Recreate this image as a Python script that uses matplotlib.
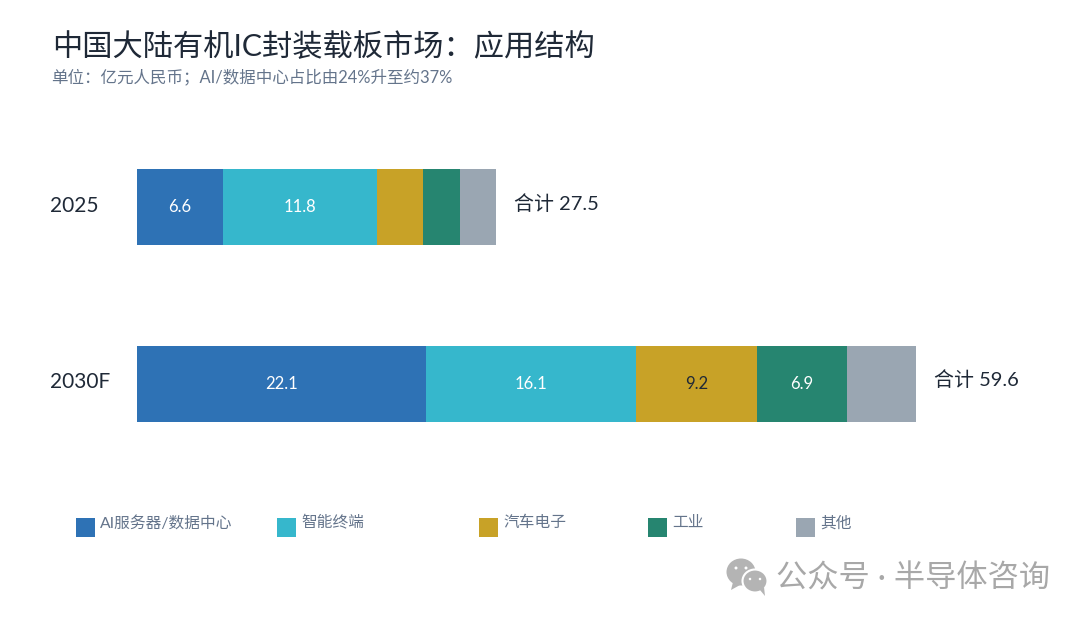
import matplotlib
matplotlib.use("Agg")
import matplotlib.pyplot as plt
from matplotlib.patches import Ellipse, Rectangle, Polygon

plt.rcParams['font.family'] = ['Lato', 'Noto Sans CJK SC', 'DejaVu Sans']

# data
years = ["2025", "2030F"]
categories = ["AI服务器/数据中心", "智能终端", "汽车电子", "工业", "其他"]
ai_server = [6.6, 22.1]
terminal = [11.8, 16.1]
auto = [3.5, 9.2]
industry = [2.8, 6.9]
other = [2.8, 5.3]
totals = [27.5, 59.6]

series = [ai_server, terminal, auto, industry, other]
colors = ["#2E72B5", "#36B7CC", "#C8A227", "#268570", "#9AA6B2"]
# which segments carry a label, and in what colour
label_flags = [[True, True], [True, True], [False, True], [False, True], [False, False]]
label_colors = ["white", "white", "#1F2937", "white", "white"]

title = "中国大陆有机IC封装载板市场：应用结构"
subtitle = "单位：亿元人民币；AI/数据中心占比由24%升至约37%"
watermark = "公众号 · 半导体咨询"

W, H = 1080, 619
fig = plt.figure(figsize=(W / 100, H / 100), dpi=100, facecolor="white")

# overlay in pixel coordinates for text and legend
bg = fig.add_axes([0, 0, 1, 1])
bg.set_xlim(0, W)
bg.set_ylim(H, 0)
bg.axis("off")

# bars
ax = fig.add_axes([137 / W, 1 - 421.5 / H, 779 / W, 252.5 / H])
ax.patch.set_alpha(0)
ypos = [0, 1]
left = [0, 0]
for i, vals in enumerate(series):
    ax.barh(ypos, vals, left=left, height=0.43, color=colors[i], linewidth=0)
    for j in range(2):
        if label_flags[i][j]:
            ax.text(left[j] + vals[j] / 2, ypos[j], f"{vals[j]:.1f}", color=label_colors[i],
                    ha="center", va="center", fontsize=12)
    left = [left[0] + vals[0], left[1] + vals[1]]
ax.set_xlim(0, 59.6)
ax.set_ylim(1.215, -0.215)
ax.axis("off")

for j in range(2):
    ax.text(-87 / 13.07, ypos[j] - 0.006, years[j], ha="left", va="center", fontsize=15, color="#1F2937")
    ax.text(totals[j] + 18 / 13.07, ypos[j] - 0.02, f"合计 {totals[j]}", ha="left", va="center",
            fontsize=14.4, color="#1F2937")

# title
bg.text(52, 47, title, fontsize=21.8, color="#1F2937", ha="left", va="center")
bg.text(51, 77, subtitle, fontsize=11.9, color="#64748B", ha="left", va="center")

# legend
legend_x = [76, 277, 479, 648, 796]
for x, c, name in zip(legend_x, colors, categories):
    bg.add_patch(Rectangle((x, 518), 18.5, 19, color=c, linewidth=0))
    bg.text(x + 24, 523, name, fontsize=11.3, color="#64748B", ha="left", va="center")

# watermark icon
grey = "#B4B4B4"
bg.add_patch(Ellipse((741, 572), 29, 27, color=grey, linewidth=0))
bg.add_patch(Polygon([(733, 582), (731, 590), (740, 585)], color=grey, linewidth=0))
bg.add_patch(Ellipse((755, 581), 25, 23, color=grey, ec="white", linewidth=1.5))
bg.add_patch(Polygon([(760, 590), (765, 596), (764, 587)], color=grey, linewidth=0))
for ex, ey, r, fc in [(736, 568, 3, "white"), (746, 568, 3, "white"), (750, 579, 2.5, "white"), (760, 579, 2.5, "white")]:
    bg.add_patch(Ellipse((ex, ey), r, r, color=fc, linewidth=0))
bg.text(776, 578, watermark, fontsize=22.5, color="#A8A8A8", ha="left", va="center")

fig.savefig("out.png", dpi=100)
